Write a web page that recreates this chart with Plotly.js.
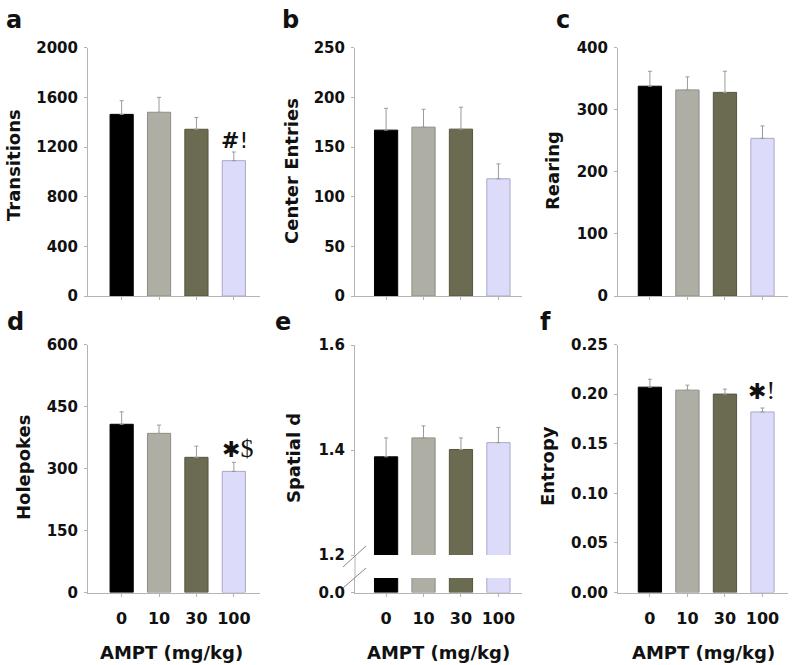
<!DOCTYPE html>
<html>
<head>
<meta charset="utf-8">
<script src="https://cdn.plot.ly/plotly-3.0.1.min.js"></script>
<style>body{margin:0;background:#fff}</style>
</head>
<body>
<div id="chart" style="width:800px;height:665px"></div>
<script>
// AMPT dose groups
var doses = ["0", "10", "30", "100"];

// bar means
var transitions = [1463, 1480, 1343, 1090];
var transitionsErr = [110, 120, 95, 70];
var centerEntries = [167, 170, 168, 118];
var centerEntriesErr = [22, 18, 22, 15];
var rearing = [338, 332, 328, 254];
var rearingErr = [24, 21, 34, 20];
var holepokes = [407, 385, 327, 293];
var holepokesErr = [30, 20, 27, 22];
var spatialD = [1.387, 1.423, 1.401, 1.414];
var spatialDErr = [0.036, 0.023, 0.022, 0.029];
var entropy = [0.207, 0.204, 0.200, 0.182];
var entropyErr = [0.008, 0.005, 0.005, 0.004];

var barColors = ["#000000", "#aeaea4", "#6b6b52", "#dcdcfa"];
var barLines = ["#000000", "#8e8e86", "#55553f", "#a8a8c8"];
var axisGray = "#b4b4b4";
var FONT = "DejaVu Sans";

function W(px) { return px / 800; }
function H(py) { return 1 - py / 665; }

function barTrace(vals, errs, xa, ya) {
    return {
        type: "bar", x: doses, y: vals, xaxis: xa, yaxis: ya,
        width: 0.62,
        marker: {color: barColors, line: {color: barLines, width: 1}},
        error_y: {type: "data", array: errs, arrayminus: [0, 0, 0, 0], symmetric: false,
                  color: "#9a9a9a", thickness: 1, width: 2},
        hoverinfo: "x+y", showlegend: false
    };
}

var data = [
    barTrace(transitions, transitionsErr, "x", "y"),
    barTrace(centerEntries, centerEntriesErr, "x2", "y2"),
    barTrace(rearing, rearingErr, "x3", "y3"),
    barTrace(holepokes, holepokesErr, "x4", "y4"),
    barTrace(spatialD, spatialDErr, "x5", "y5"),   // lower part of broken axis
    barTrace(spatialD, spatialDErr, "x5", "y7"),   // upper part
    barTrace(entropy, entropyErr, "x6", "y6")
];

var cols = [[88, 260, [-0.9, 3.7]], [355, 522, [-0.83, 3.63]], [618, 788, [-0.85, 3.68]]];
var topDom = [H(296), H(47.7)];
var botDom = [H(592.5), H(344.5)];

function xAx(col, anchor, labels) {
    return {
        domain: [W(cols[col][0]), W(cols[col][1])], range: cols[col][2], anchor: anchor,
        type: "category", showline: true, linecolor: axisGray, linewidth: 1,
        ticks: "outside", ticklen: 3, tickcolor: axisGray, ticklabelstandoff: 8,
        showticklabels: labels, showgrid: false, zeroline: false, fixedrange: true,
        tickfont: {family: FONT, size: 16, color: "#111", weight: "bold"}
    };
}
function yAx(col, dom, range, dtick, fmt) {
    return {
        domain: dom, range: range, dtick: dtick, tick0: 0, tickformat: fmt,
        anchor: ["x", "x2", "x3", "x4", "x5", "x6"][col],
        showline: true, linecolor: axisGray, linewidth: 1,
        ticks: "outside", ticklen: 3, tickcolor: axisGray, ticklabelstandoff: 3,
        showgrid: false, zeroline: false, fixedrange: true,
        tickfont: {family: FONT, size: 15, color: "#111", weight: "bold"}
    };
}

var layout = {
    width: 800, height: 665,
    margin: {l: 0, r: 0, t: 0, b: 0},
    paper_bgcolor: "#fff", plot_bgcolor: "rgba(0,0,0,0)",
    xaxis: xAx(0, "y", false),
    xaxis2: xAx(1, "y2", false),
    xaxis3: xAx(2, "y3", false),
    xaxis4: xAx(0, "y4", true),
    xaxis5: xAx(1, "y5", true),
    xaxis6: xAx(2, "y6", true),
    yaxis: yAx(0, topDom, [0, 2000], 400, "d"),
    yaxis2: yAx(1, topDom, [0, 250], 50, "d"),
    yaxis3: yAx(2, topDom, [0, 400], 100, "d"),
    yaxis4: yAx(3, botDom, [0, 600], 150, "d"),
    yaxis5: Object.assign(yAx(4, [H(592.5), H(578)], [0, 0.1], 1, ".1f"),
                          {tickmode: "array", tickvals: [0], ticktext: ["0.0"]}),
    yaxis6: yAx(5, botDom, [0, 0.25], 0.05, ".2f"),
    yaxis7: Object.assign(yAx(4, [H(555), H(345)], [1.2, 1.6], 0.2, ".1f"),
                          {tick0: 1.2}),
    annotations: [],
    shapes: [
        // axis line bridging the break in panel e
        {type: "line", xref: "paper", yref: "paper", x0: W(355), x1: W(355), y0: H(555), y1: H(578),
         line: {color: axisGray, width: 1}},
        // break marks
        {type: "line", xref: "paper", yref: "paper", x0: W(343), x1: W(366), y0: H(567), y1: H(546),
         line: {color: "#888", width: 1}},
        {type: "line", xref: "paper", yref: "paper", x0: W(343), x1: W(366), y0: H(588), y1: H(568),
         line: {color: "#888", width: 1}}
    ]
};

function note(text, px, py, opts) {
    var a = {text: text, x: W(px), y: H(py), xref: "paper", yref: "paper",
             showarrow: false, xanchor: "center", yanchor: "middle",
             font: {family: FONT, size: 18, color: "#111", weight: "bold"}};
    layout.annotations.push(Object.assign(a, opts || {}));
}

// panel letters
var letters = [["a", 14, 20], ["b", 290, 20], ["c", 563, 20], ["d", 15, 322], ["e", 283, 322], ["f", 545, 322]];
letters.forEach(function (l) { note(l[0], l[1], l[2], {font: {family: FONT, size: 24, color: "#111", weight: "bold"}}); });

// y-axis titles
var ytitles = [["Transitions", 13, 165], ["Center Entries", 292, 171], ["Rearing", 553, 171],
               ["Holepokes", 23, 468], ["Spatial d", 293, 458], ["Entropy", 547, 466]];
ytitles.forEach(function (t) { note(t[0], t[1], t[2], {textangle: -90}); });

// x-axis titles
[171, 438, 703].forEach(function (cx) { note("AMPT (mg/kg)", cx, 652); });

// significance marks
var sigFont = {family: "DejaVu Sans", size: 22, color: "#111"};
note("<b>#</b>!", 234, 140, {font: sigFont});
note("✱<span style='font-family:Liberation Serif;font-size:26px'>$</span>", 237, 448, {font: sigFont});
note("✱<span style='font-family:Liberation Serif;font-size:26px'>!</span>", 761, 391, {font: sigFont});

Plotly.newPlot("chart", data, layout, {staticPlot: true});
</script>
</body>
</html>
